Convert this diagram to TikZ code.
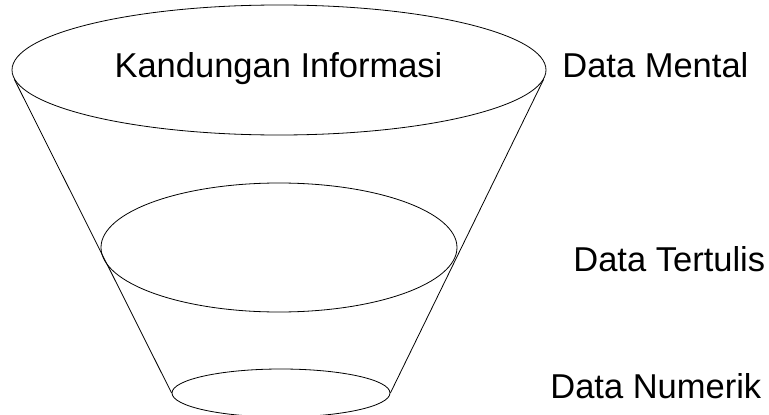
\documentclass[tikz,border=0pt]{standalone}
\usepackage{fontspec}
\setmainfont{Liberation Sans}
\usetikzlibrary{shapes.geometric}

\begin{document}
\begin{tikzpicture}[x=1pt,y=-1pt,line width=0.8pt,
  level/.style={draw,ellipse,inner sep=0pt},
  datatext/.style={font=\fontsize{34.5}{40}\selectfont,inner sep=0pt}]
\useasboundingbox (0,0) rectangle (769,415);

% Draw the funnel levels
\node[level,minimum width=534pt,minimum height=130pt] (mental) at (279,70) {};
\node[level,minimum width=356pt,minimum height=129pt] (tertulis) at (279,247.5) {};
\node[level,minimum width=218pt,minimum height=48pt] (numerik) at (281,393) {};

% Draw the funnel sides
\draw (mental.182) -- (numerik.west);
\draw (mental.-2) -- (numerik.east);

% Add labels
\node[datatext,anchor=base] (info) at (278.5,77) {Kandungan Informasi};
\node[datatext,anchor=base west] (lmental) at (562,77) {Data Mental};
\node[datatext,anchor=base west] (ltertulis) at (573,271.5) {Data Tertulis};
\node[datatext,anchor=base west] (lnumerik) at (550,398) {Data Numerik};
\end{tikzpicture}
\end{document}
